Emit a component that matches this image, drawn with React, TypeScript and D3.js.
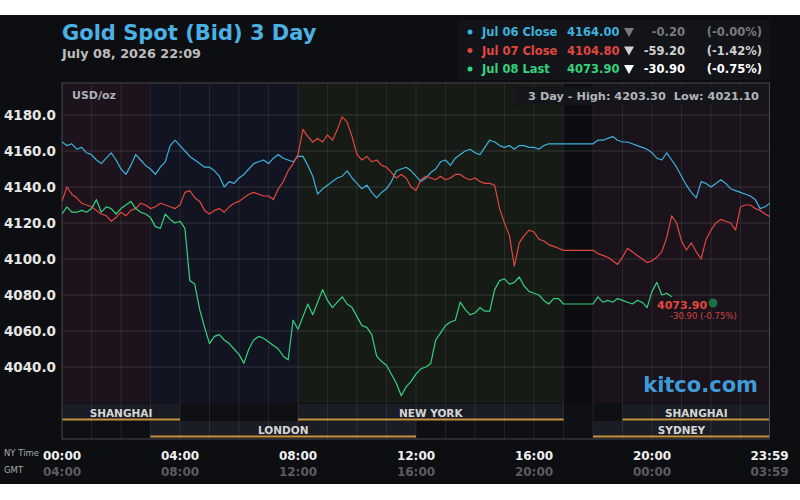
import * as d3 from 'd3';

// one reading every 10 minutes, NY time, starting 00:00
const STEP_MIN = 10;

const JUL06 = [
  4165, 4163, 4164, 4161, 4162, 4159, 4158, 4155, 4153, 4156,
  4159, 4155, 4150, 4147, 4152, 4158, 4155, 4152, 4150, 4147,
  4151, 4154, 4163, 4166, 4163, 4160, 4157, 4155, 4153, 4151,
  4151, 4149, 4146, 4140, 4143, 4142, 4145, 4147, 4150, 4153,
  4154, 4155, 4153, 4156, 4158, 4156, 4155, 4154, 4157, 4157,
  4152, 4146, 4136, 4139, 4141, 4143, 4145, 4146, 4149, 4145,
  4142, 4139, 4141, 4137, 4134, 4137, 4139, 4143, 4149, 4150,
  4151, 4149, 4146, 4143, 4145, 4148, 4150, 4154, 4155, 4152,
  4156, 4158, 4160, 4161, 4159, 4158, 4162, 4166, 4165, 4163,
  4162, 4163, 4161, 4163, 4163, 4162, 4162, 4161, 4163, 4164,
  4164, 4164, 4164, 4164, 4164, 4164, 4164, 4164, 4164, 4166,
  4166, 4167, 4168, 4166, 4165, 4165, 4164, 4163, 4162, 4161,
  4159, 4156, 4155, 4159, 4155, 4151, 4146, 4141, 4137, 4134,
  4143, 4142, 4140, 4142, 4144, 4142, 4139, 4138, 4137, 4136,
  4135, 4133, 4128, 4129, 4131,
];

const JUL07 = [
  4132, 4140, 4136, 4134, 4131, 4130, 4129, 4127, 4125, 4124,
  4121, 4123, 4126, 4124, 4127, 4128, 4131, 4130, 4128, 4129,
  4131, 4130, 4129, 4128, 4130, 4137, 4138, 4134, 4132, 4127,
  4125, 4127, 4128, 4126, 4129, 4131, 4132, 4134, 4136, 4137,
  4136, 4135, 4135, 4133, 4139, 4143, 4149, 4153, 4158, 4172,
  4168, 4165, 4167, 4165, 4169, 4166, 4172, 4179, 4176, 4168,
  4158, 4155, 4157, 4154, 4155, 4152, 4151, 4148, 4145, 4147,
  4145, 4140, 4138, 4144, 4146, 4145, 4144, 4146, 4144, 4145,
  4147, 4147, 4145, 4144, 4145, 4143, 4142, 4142, 4141, 4128,
  4120, 4113, 4096, 4109, 4113, 4116, 4115, 4111, 4110, 4108,
  4107, 4106, 4104.8, 4104.8, 4104.8, 4104.8, 4104.8, 4104.8, 4104.8, 4103,
  4102, 4101, 4099, 4097, 4101, 4106, 4104, 4102, 4100, 4098,
  4099, 4101, 4104, 4112, 4124, 4120, 4110, 4105, 4109, 4104,
  4100, 4111, 4116, 4120, 4122, 4121, 4120, 4116, 4129, 4130,
  4130, 4128, 4127, 4125, 4123.5,
];

const JUL08 = [
  4125, 4129, 4126, 4126, 4127, 4126, 4128, 4133, 4126, 4129,
  4128, 4125, 4128, 4130, 4132, 4128, 4126, 4125, 4123, 4118,
  4117, 4125, 4122, 4120, 4121, 4117, 4088, 4086, 4072, 4062,
  4053, 4057, 4058, 4055, 4053, 4050, 4047, 4042, 4050, 4055,
  4057, 4056, 4054, 4052, 4050, 4046, 4044, 4066, 4061, 4068,
  4075, 4069, 4076, 4083, 4077, 4073, 4076, 4079, 4075, 4073,
  4068, 4063, 4062, 4058, 4046, 4043, 4041, 4036, 4031, 4024,
  4029, 4032, 4036, 4039, 4040, 4042, 4055, 4059, 4063, 4065,
  4066, 4076, 4072, 4069, 4070, 4073, 4071, 4071, 4083, 4088,
  4089, 4086, 4087, 4090, 4085, 4082, 4081, 4080, 4077, 4075,
  4078, 4078, 4075, 4075, 4075, 4075, 4075, 4075, 4075, 4079,
  4076, 4077, 4076, 4078, 4077, 4076, 4075, 4077, 4076, 4073,
  4082, 4087, 4080, 4081, 4079,
];

const Y_TICKS = [4040, 4060, 4080, 4100, 4120, 4140, 4160, 4180];
const X_TICKS = [0, 240, 480, 720, 960, 1200, 1439];
const NY_LABELS = ['00:00', '04:00', '08:00', '12:00', '16:00', '20:00', '23:59'];
const GMT_LABELS = ['04:00', '08:00', '12:00', '16:00', '20:00', '00:00', '03:59'];

// market hours, NY time
const BANDS = [
  { from: 0, to: 3, color: '#1d131c' },
  { from: 3, to: 8, color: '#121521' },
  { from: 8, to: 17, color: '#161b16' },
  { from: 17, to: 18, color: '#0c0d10' },
  { from: 18, to: 24, color: '#1a131c' },
];
const SESSIONS_TOP = [
  { name: 'SHANGHAI', from: 0, to: 4 },
  { name: 'NEW YORK', from: 8, to: 17 },
  { name: 'SHANGHAI', from: 19, to: 24 },
];
const SESSIONS_BOTTOM = [
  { name: 'LONDON', from: 3, to: 12 },
  { name: 'SYDNEY', from: 18, to: 24 },
];

const LEGEND = [
  { label: 'Jul 06 Close', value: '4164.00', change: '-0.20', pct: '(-0.00%)', color: '#3cb2dc', dim: '#7a7a7a' },
  { label: 'Jul 07 Close', value: '4104.80', change: '-59.20', pct: '(-1.42%)', color: '#e2473f', dim: '#d0d0d0' },
  { label: 'Jul 08 Last', value: '4073.90', change: '-30.90', pct: '(-0.75%)', color: '#34d27c', dim: '#ffffff' },
];
const SERIES = [JUL06, JUL07, JUL08];

const FONT = '"DejaVu Sans", sans-serif';
const left = 62;
const right = 769.5;
const top = 83;
const priceBottom = 403;
const bottom = 439;

export default function App() {
  const x = d3.scaleLinear().domain([0, 1440]).range([left, 770]);
  const xh = (h: number) => x(h * 60);
  const y = d3.scaleLinear().domain([4040, 4180]).range([367, 115]);

  const line = d3.line<number>()
    .x((_, i) => x(i * STEP_MIN))
    .y(d => y(d));

  const row1 = { y0: 404, y1: 420 };
  const row2 = { y0: 421, y1: 437 };

  const sessionRow = (list: typeof SESSIONS_TOP, r: { y0: number; y1: number }, key: string) =>
    list.map((s, i) => (
      <g key={key + i}>
        <rect x={xh(s.from)} y={r.y0} width={xh(s.to) - xh(s.from)} height={r.y1 - r.y0} fill="#1a1d25" />
        <line x1={xh(s.from)} x2={xh(s.to)} y1={r.y1 - 0.5} y2={r.y1 - 0.5} stroke="#c8913c" strokeWidth={2} />
        <text x={(xh(s.from) + xh(s.to)) / 2} y={r.y1 - 3} textAnchor="middle" fill="#d6d6d6"
          fontSize={10.5} fontWeight="bold">{s.name}</text>
      </g>
    ));

  return (
    <div>
      <style>{'body{margin:0;background:#fff}'}</style>
      <svg width={800} height={500} style={{ display: 'block', fontFamily: FONT }}>
        <rect x={0} y={15} width={800} height={469} fill="#0d0e11" />

        <text x={62} y={40} fill="#4bb1e4" fontSize={21} fontWeight="bold">Gold Spot (Bid) 3 Day</text>
        <text x={62} y={58} fill="#bdbdbd" fontSize={12.8} fontWeight="bold">July 08, 2026 22:09</text>

        <rect x={458} y={20} width={312} height={60} fill="#121419" />
        {LEGEND.map((l, i) => {
          const cy = 32 + i * 18.5;
          return (
            <g key={l.label} fontWeight="bold" fontSize={11.5}>
              <circle cx={470} cy={cy} r={2.5} fill={l.color} />
              <text x={482} y={cy + 4} fill={l.color}>{l.label}</text>
              <text x={567} y={cy + 4} fill={l.color}>{l.value}</text>
              <path d={`M${624},${cy - 4} h10 l-5,9 z`} fill={l.dim} />
              <text x={685} y={cy + 4} fill={l.dim} textAnchor="end">{l.change}</text>
              <text x={762} y={cy + 4} fill={l.dim} textAnchor="end">{l.pct}</text>
            </g>
          );
        })}

        {BANDS.map(b => (
          <rect key={b.from} x={xh(b.from)} y={top} width={xh(b.to) - xh(b.from)} height={priceBottom - top} fill={b.color} />
        ))}
        <rect x={left} y={priceBottom} width={right - left} height={bottom - priceBottom} fill="#0f1014" />
        {sessionRow(SESSIONS_TOP, row1, 'a')}
        {sessionRow(SESSIONS_BOTTOM, row2, 'b')}

        {d3.range(1, 24).map(h => (
          <line key={h} x1={xh(h)} x2={xh(h)} y1={top} y2={bottom} stroke="#ffffff" strokeOpacity={0.08} />
        ))}
        {Y_TICKS.map(t => (
          <g key={t}>
            <line x1={left} x2={right} y1={y(t)} y2={y(t)} stroke="#ffffff" strokeOpacity={0.13} />
            <text x={56} y={y(t)} dy="0.36em" textAnchor="end" fill="#e6e6e6" fontSize={13.5} fontWeight="bold">
              {t.toFixed(1)}
            </text>
          </g>
        ))}

        <rect x={left} y={top} width={right - left} height={bottom - top} fill="none" stroke="#464950" />

        <text x={72} y={99} fill="#aeb0b8" fontSize={11} fontWeight="bold">USD/oz</text>
        <rect x={515} y={87} width={250} height={18} fill="#15161b" />
        <text x={759} y={100} textAnchor="end" fill="#b4b4b8" fontSize={11.3} fontWeight="bold"
          style={{ whiteSpace: 'pre' }}>
          {'3 Day - High: 4203.30  Low: 4021.10'}
        </text>

        <defs>
          <clipPath id="plot">
            <rect x={left} y={top} width={right - left} height={priceBottom - top} />
          </clipPath>
        </defs>
        <g clipPath="url(#plot)" fill="none" strokeWidth={1.2} strokeLinejoin="round">
          {SERIES.map((s, i) => (
            <path key={i} d={line(s) || ''} stroke={LEGEND[i].color} />
          ))}
        </g>

        <circle cx={713} cy={303} r={4.5} fill="#1d6e42" />
        <text x={657} y={309} fill="#e2473f" fontSize={11} fontWeight="bold">4073.90</text>
        <text x={670} y={319} fill="#d2443c" fontSize={8.5}>-30.90 (-0.75%)</text>

        <text x={758} y={392} textAnchor="end" fill="#3f9bd8" fontSize={21} fontWeight="bold">kitco.com</text>

        <text x={4} y={456} fill="#a8a8a8" fontSize={8.5}>NY Time</text>
        <text x={4} y={473} fill="#a8a8a8" fontSize={8.5}>GMT</text>
        {X_TICKS.map((m, i) => (
          <g key={m} textAnchor="middle" fontWeight="bold" fontSize={12}>
            <text x={x(m)} y={460} fill="#f0f0f0">{NY_LABELS[i]}</text>
            <text x={x(m)} y={476} fill="#5c5c60">{GMT_LABELS[i]}</text>
          </g>
        ))}
      </svg>
    </div>
  );
}
